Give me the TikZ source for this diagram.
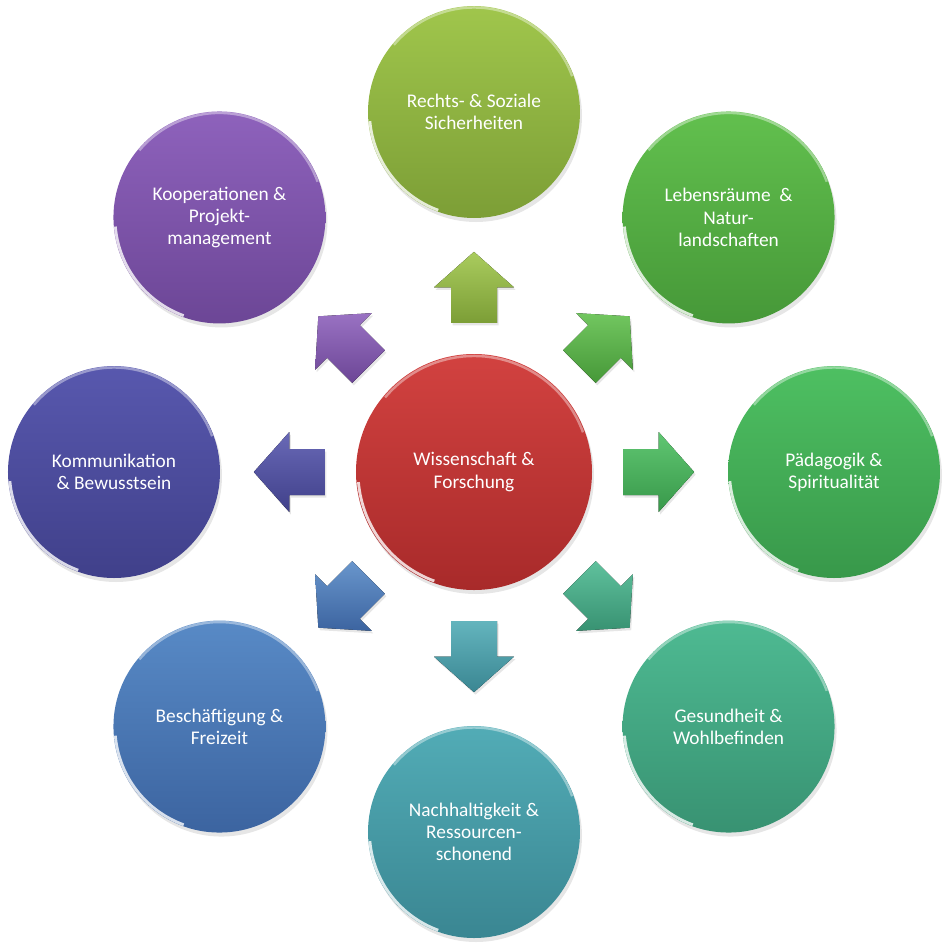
\documentclass[tikz,border=0pt]{standalone}
\usepackage{fontspec}
\setmainfont{Carlito}
\usepackage{xcolor}
\usepackage{tikz}
\usetikzlibrary{calc,shadows}
\definecolor{hubT}{RGB}{210,66,64}
\definecolor{hubB}{RGB}{168,42,42}
\definecolor{top1}{RGB}{160,198,76}
\definecolor{bot1}{RGB}{124,158,54}
\definecolor{top2}{RGB}{98,192,78}
\definecolor{bot2}{RGB}{70,152,56}
\definecolor{top3}{RGB}{78,192,98}
\definecolor{bot3}{RGB}{56,152,74}
\definecolor{top4}{RGB}{78,186,146}
\definecolor{bot4}{RGB}{56,146,114}
\definecolor{top5}{RGB}{82,172,182}
\definecolor{bot5}{RGB}{58,134,146}
\definecolor{top6}{RGB}{88,138,198}
\definecolor{bot6}{RGB}{60,100,160}
\definecolor{top7}{RGB}{88,88,174}
\definecolor{bot7}{RGB}{64,64,138}
\definecolor{top8}{RGB}{142,98,188}
\definecolor{bot8}{RGB}{108,70,150}
\tikzset{
  glint/.style={path picture={
    \draw[white,opacity=0.8,line width=1.6pt] (path picture bounding box.center) ++(185:#1) arc[start angle=185,end angle=250,radius=#1];
    \draw[white,opacity=0.4,line width=1.4pt] (path picture bounding box.center) ++(20:#1) arc[start angle=20,end angle=140,radius=#1];}},
  hub/.style={circle,minimum size=4.72cm,inner sep=0pt,align=center,text=white,
    font=\fontsize{11}{12.6}\selectfont,top color=hubT,bottom color=hubB,
    drop shadow={opacity=0.2,shadow xshift=0.04cm,shadow yshift=-0.08cm},glint=2.32cm},
  topic/.style={circle,minimum size=4.24cm,inner sep=0pt,align=center,text=white,
    font=\fontsize{11}{12.6}\selectfont,
    drop shadow={opacity=0.2,shadow xshift=0.04cm,shadow yshift=-0.08cm},glint=2.09cm},
  barrow/.style={drop shadow={opacity=0.2,shadow xshift=0.03cm,shadow yshift=-0.05cm}}
}

\begin{document}
\begin{tikzpicture}
\useasboundingbox (-9.48,-9.46) rectangle (9.52,9.44);
\node[hub] (core) at (0,0) {Wissenschaft \&\\Forschung};
\foreach \i/\a/\txt in {1/90/{Rechts- \& Soziale\\Sicherheiten},
    2/45/{Lebensräume~~\&\\Natur-\\landschaften},
    3/0/{Pädagogik \&\\Spiritualität},
    4/-45/{Gesundheit \&\\Wohlbefinden},
    5/-90/{Nachhaltigkeit \&\\Ressourcen-\\schonend},
    6/-135/{Beschäftigung \&\\Freizeit},
    7/180/{Kommunikation\\\& Bewusstsein},
    8/135/{Kooperationen \&\\Projekt-\\management}}{
  \node[topic,top color=top\i,bottom color=bot\i] (f\i) at (\a:7.2) {\txt};
  \coordinate (m\i) at ($(core)!0.513!(f\i)$);
  \fill[barrow,top color=top\i!90!white,bottom color=bot\i,shift={(m\i)},rotate=\a]
    (-0.71,0.46) -- (0,0.46) -- (0,0.8) -- (0.71,0) -- (0,-0.8) -- (0,-0.46) -- (-0.71,-0.46) -- cycle;
}
\end{tikzpicture}
\end{document}
